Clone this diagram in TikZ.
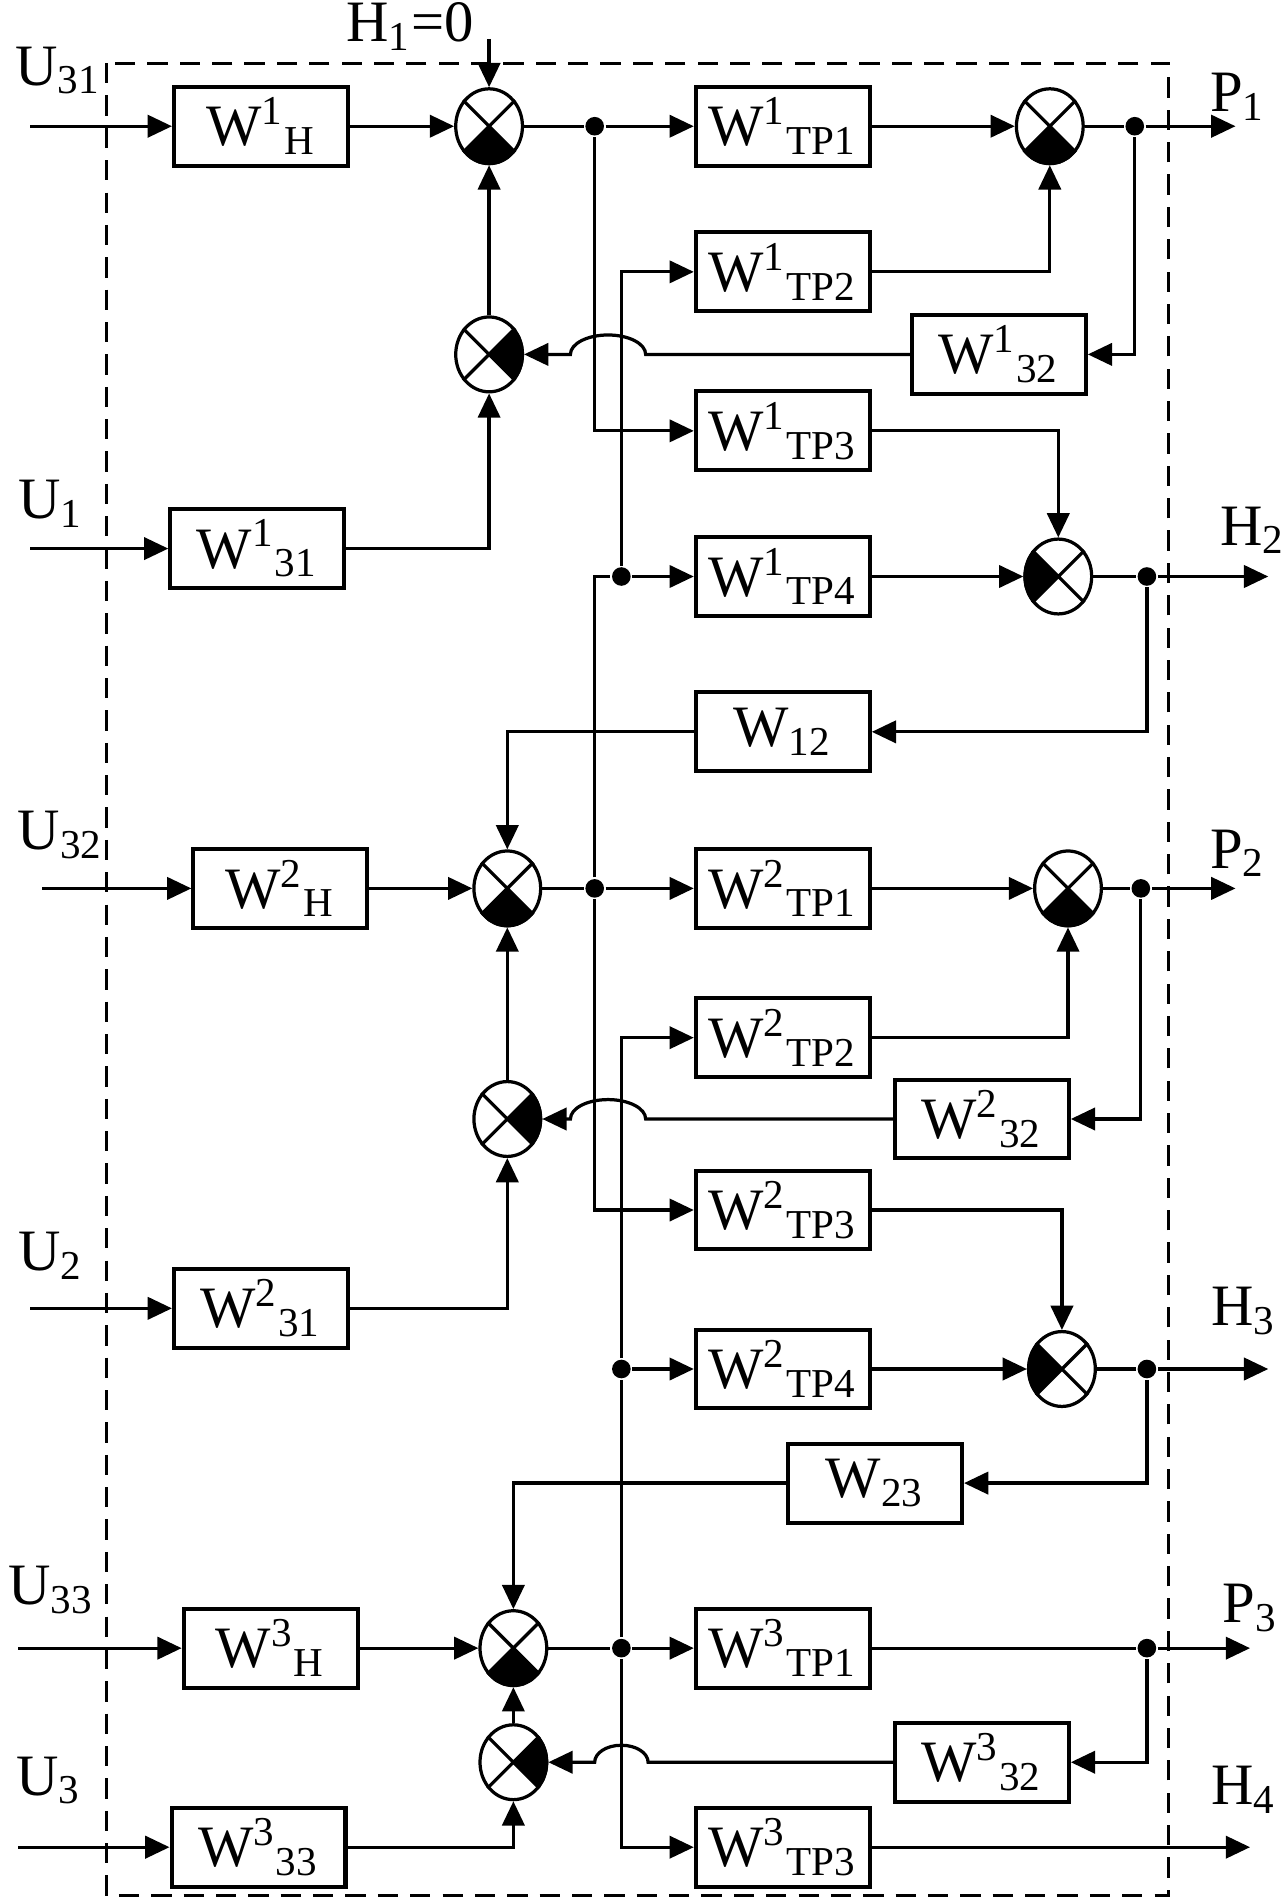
\documentclass[tikz,border=0pt]{standalone}
\usepackage{fontspec}
\setmainfont{Liberation Serif}
\usepackage{tikz}
\usetikzlibrary{arrows.meta, positioning, calc, shapes.geometric}

\newcommand{\Wt}[2]{W\textsuperscript{#1}\textsubscript{#2}}
\newcommand{\sumq}[2]{%
  \fill (#1.center) \foreach \a [evaluate=\a as \b using {int(\a+(#2))}] in {-45,-30,...,45}{ -- (#1.\b)} -- cycle;
  \draw (#1.45) -- (#1.-135) (#1.135) -- (#1.-45);}

\begin{document}
\begin{tikzpicture}[x=0.3pt, y=-0.3pt, >={Triangle[length=6pt,width=5.5pt]},
  line width=0.8pt, font=\fontsize{14.5}{16}\selectfont,
  blk/.style={draw, line width=1pt, minimum width=43pt, minimum height=19.5pt, inner sep=0pt},
  sj/.style={draw, ellipse, minimum width=16.5pt, minimum height=18.5pt, inner sep=0pt},
  dot/.style={circle, fill, minimum size=4.6pt, inner sep=0pt},
  lab/.style={inner sep=0pt}]
\useasboundingbox (0,0) rectangle (1061,1568);
\draw[dash pattern=on 5pt off 3pt] (88,52) rectangle (963,1562);

\node[lab] (lu31) at (48,58) {U\textsubscript{31}};
\node[lab] (lu1) at (42,415) {U\textsubscript{1}};
\node[lab] (lu32) at (50,688) {U\textsubscript{32}};
\node[lab] (lu2) at (42,1035) {U\textsubscript{2}};
\node[lab] (lu33) at (42,1310) {U\textsubscript{33}};
\node[lab] (lu3) at (40,1467) {U\textsubscript{3}};
\node[lab] (lh1) at (338,22) {H\textsubscript{1}=0};
\node[lab] (lp1) at (1020,80) {P\textsubscript{1}};
\node[lab] (lh2) at (1032,437) {H\textsubscript{2}};
\node[lab] (lp2) at (1020,703) {P\textsubscript{2}};
\node[lab] (lh3) at (1025,1080) {H\textsubscript{3}};
\node[lab] (lp3) at (1030,1325) {P\textsubscript{3}};
\node[lab] (lh4) at (1025,1475) {H\textsubscript{4}};

\coordinate (iu31) at (25,104);
\coordinate (iu1) at (25,452);
\coordinate (iu32) at (35,732);
\coordinate (iu2) at (25,1078);
\coordinate (iu33) at (15,1358);
\coordinate (iu3) at (15,1522);
\coordinate (ih1) at (403,32);
\coordinate (op1) at (1018,104);
\coordinate (oh2) at (1045,475);
\coordinate (op2) at (1018,732);
\coordinate (oh3) at (1045,1128);
\coordinate (op3) at (1030,1358);
\coordinate (oh4) at (1030,1522);

\node[blk] (wh1) at (215,104) {\Wt{1}{H}};
\node[blk] (w311) at (212,452) {\Wt{1}{31}};
\node[sj] (s1) at (403,104) {};
\node[sj] (f1) at (403,292) {};
\node[dot] (d1) at (490,104) {};
\node[dot] (d14) at (512,475) {};
\node[blk] (tp11) at (645,104) {\Wt{1}{TP1}};
\node[blk] (tp12) at (645,224) {\Wt{1}{TP2}};
\node[blk] (tp13) at (645,355) {\Wt{1}{TP3}};
\node[blk] (tp14) at (645,475) {\Wt{1}{TP4}};
\node[blk] (w12) at (645,603) {W\textsubscript{12}};
\node[blk] (w321) at (823,292) {\Wt{1}{32}};
\node[sj] (sp1) at (865,104) {};
\node[sj] (sh2) at (872,475) {};
\node[dot] (dp1) at (935,104) {};
\node[dot] (dh2) at (945,475) {};

\node[blk] (wh2) at (231,732) {\Wt{2}{H}};
\node[blk] (w312) at (215,1078) {\Wt{2}{31}};
\node[sj] (s2) at (418,732) {};
\node[sj] (f2) at (418,922) {};
\node[dot] (d2) at (490,732) {};
\node[dot] (d24) at (512,1128) {};
\node[blk] (tp21) at (645,732) {\Wt{2}{TP1}};
\node[blk] (tp22) at (645,855) {\Wt{2}{TP2}};
\node[blk] (tp23) at (645,997) {\Wt{2}{TP3}};
\node[blk] (tp24) at (645,1128) {\Wt{2}{TP4}};
\node[blk] (w23) at (721,1222) {W\textsubscript{23}};
\node[blk] (w322) at (809,922) {\Wt{2}{32}};
\node[sj] (sp2) at (880,732) {};
\node[sj] (sh3) at (875,1128) {};
\node[dot] (dp2) at (940,732) {};
\node[dot] (dh3) at (945,1128) {};

\node[blk] (wh3) at (223,1358) {\Wt{3}{H}};
\node[blk] (w333) at (213,1522) {\Wt{3}{33}};
\node[sj] (s3) at (423,1358) {};
\node[sj] (f3) at (423,1452) {};
\node[dot] (d3) at (512,1358) {};
\node[blk] (tp31) at (645,1358) {\Wt{3}{TP1}};
\node[blk] (tp33) at (645,1522) {\Wt{3}{TP3}};
\node[blk] (w323) at (809,1452) {\Wt{3}{32}};
\node[dot] (dp3) at (945,1358) {};

\sumq{s1}{-90} \sumq{f1}{0} \sumq{sp1}{-90} \sumq{sh2}{180}
\sumq{s2}{-90} \sumq{f2}{0} \sumq{sp2}{-90} \sumq{sh3}{180}
\sumq{s3}{-90} \sumq{f3}{0}

\draw[->] (iu31) -- (wh1);
\draw[->] (iu1) -- (w311);
\draw[->] (iu32) -- (wh2);
\draw[->] (iu2) -- (w312);
\draw[->] (iu33) -- (wh3);
\draw[->] (iu3) -- (w333);
\draw[->] (ih1) -- (s1);

\draw[->] (wh1) -- (s1);
\draw[->] (f1) -- (s1);
\draw[->] (w311) -| (f1);
\draw (s1) -- (d1);
\draw[->] (d1) -- (tp11);
\draw[->] (d1) |- (tp13);
\draw[->] (d14) |- (tp12);
\draw[->] (d14) -- (tp14);
\draw[->] (tp11) -- (sp1);
\draw[->] (tp12) -| (sp1);
\draw (sp1) -- (dp1);
\draw[->] (dp1) -- (op1);
\draw[->] (dp1) |- (w321);
\draw[->] (w321.west) -- (532,292) arc[start angle=0, end angle=-180, x radius=31, y radius=16] -- (f1);
\draw[->] (tp13) -| (sh2);
\draw[->] (tp14) -- (sh2);
\draw (sh2) -- (dh2);
\draw[->] (dh2) -- (oh2);
\draw[->] (dh2) |- (w12);
\draw[->] (w12) -| (s2);

\draw[->] (wh2) -- (s2);
\draw[->] (f2) -- (s2);
\draw[->] (w312) -| (f2);
\draw (s2) -- (d2);
\draw (d2) |- (d14);
\draw[->] (d2) -- (tp21);
\draw[->] (d2) |- (tp23);
\draw[->] (d24) |- (tp22);
\draw[->] (d24) -- (tp24);
\draw[->] (tp21) -- (sp2);
\draw[->] (tp22) -| (sp2);
\draw (sp2) -- (dp2);
\draw[->] (dp2) -- (op2);
\draw[->] (dp2) |- (w322);
\draw[->] (w322.west) -- (532,922) arc[start angle=0, end angle=-180, x radius=31, y radius=16] -- (f2);
\draw[->] (tp23) -| (sh3);
\draw[->] (tp24) -- (sh3);
\draw (sh3) -- (dh3);
\draw[->] (dh3) -- (oh3);
\draw[->] (dh3) |- (w23);
\draw[->] (w23) -| (s3);

\draw[->] (wh3) -- (s3);
\draw[->] (f3) -- (s3);
\draw[->] (w333) -| (f3);
\draw (s3) -- (d3);
\draw (d3) -- (d24);
\draw[->] (d3) -- (tp31);
\draw[->] (d3) |- (tp33);
\draw (tp31) -- (dp3);
\draw[->] (dp3) -- (op3);
\draw[->] (dp3) |- (w323);
\draw[->] (w323.west) -- (534,1452) arc[start angle=0, end angle=-180, x radius=22, y radius=14] -- (f3);
\draw[->] (tp33) -- (oh4);
\end{tikzpicture}
\end{document}
